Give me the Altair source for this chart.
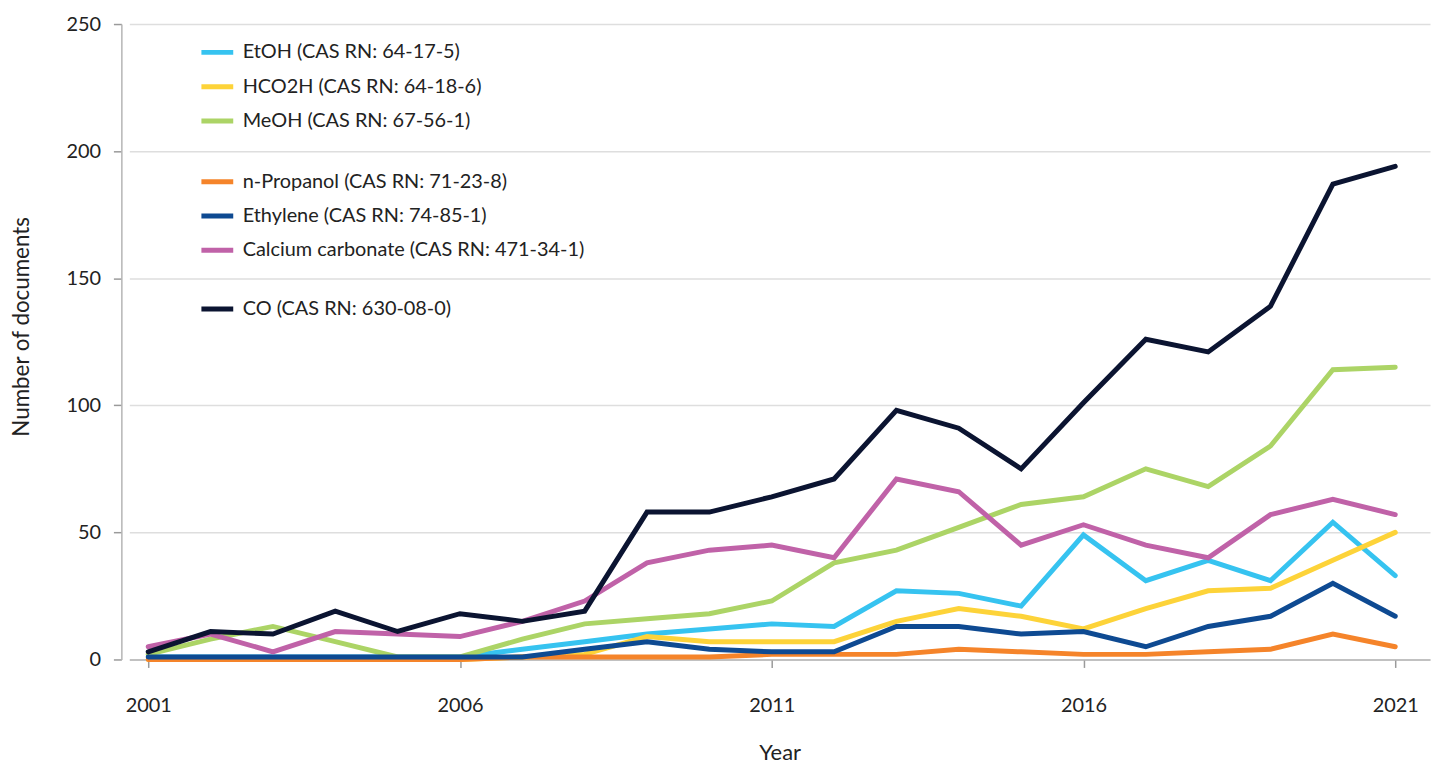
import altair as alt
import pandas as pd

years = list(range(2001, 2022))

names = [
    "EtOH (CAS RN: 64-17-5)",
    "HCO2H (CAS RN: 64-18-6)",
    "MeOH (CAS RN: 67-56-1)",
    "n-Propanol (CAS RN: 71-23-8)",
    "Ethylene (CAS RN: 74-85-1)",
    "Calcium carbonate (CAS RN: 471-34-1)",
    "CO (CAS RN: 630-08-0)",
]
colors = ["#36c3f0", "#fdd339", "#acd466", "#f5842a", "#0e4a92", "#c062a8", "#0b1431"]

etoh = [1, 1, 1, 1, 1, 1, 4, 7, 10, 12, 14, 13, 27, 26, 21, 49, 31, 39, 31, 54, 33]
hco2h = [0, 0, 0, 0, 0, 0, 1, 2, 9, 7, 7, 7, 15, 20, 17, 12, 20, 27, 28, 39, 50]
meoh = [2, 8, 13, 7, 1, 1, 8, 14, 16, 18, 23, 38, 43, 52, 61, 64, 75, 68, 84, 114, 115]
npropanol = [0, 0, 0, 0, 0, 0, 1, 1, 1, 1, 2, 2, 2, 4, 3, 2, 2, 3, 4, 10, 5]
ethylene = [1, 1, 1, 1, 1, 1, 1, 4, 7, 4, 3, 3, 13, 13, 10, 11, 5, 13, 17, 30, 17]
caco3 = [5, 10, 3, 11, 10, 9, 15, 23, 38, 43, 45, 40, 71, 66, 45, 53, 45, 40, 57, 63, 57]
co = [3, 11, 10, 19, 11, 18, 15, 19, 58, 58, 64, 71, 98, 91, 75, 101, 126, 121, 139, 187, 194]

series = [etoh, hco2h, meoh, npropanol, ethylene, caco3, co]
x_ticks = [2001, 2006, 2011, 2016, 2021]
y_ticks = [0, 50, 100, 150, 200, 250]

rows = []
for name, vals in zip(names, series):
    for yr, v in zip(years, vals):
        rows.append({"Year": yr, "Documents": v, "Series": name})
df = pd.DataFrame(rows)

groups = [[0, 1, 2], [3, 4, 5], [6]]
legend_tops = [10, 140, 268]

FONT = "Lato"
TXT = "#222222"

x_enc = alt.X(
    "Year:Q",
    scale=alt.Scale(domain=[2000.697, 2021.558], nice=False, zero=False),
    axis=alt.Axis(
        values=x_ticks, format="d", grid=False,
        domainColor="#b5b5b5", domainWidth=1.5,
        tickColor="#9a9a9a", tickWidth=1.5, tickSize=8,
        labelPadding=28, labelFontSize=20, labelColor=TXT, labelFont=FONT,
        titleFontSize=22, titleFontWeight="normal", titleColor=TXT, titleFont=FONT,
        titlePadding=28,
    ),
    title="Year",
)
y_enc = alt.Y(
    "Documents:Q",
    scale=alt.Scale(domain=[0, 250], nice=False),
    axis=alt.Axis(
        values=y_ticks, grid=True, gridColor="#dedede", gridWidth=1.5,
        offset=8, domainColor="#b5b5b5", domainWidth=1.5,
        tickColor="#9a9a9a", tickWidth=1.5, tickSize=8,
        labelPadding=13, labelFontSize=20, labelColor=TXT, labelFont=FONT,
        titleFontSize=22.5, titleFontWeight="normal", titleColor=TXT, titleFont=FONT,
        titlePadding=33, titleY=304,
    ),
    title="Number of documents",
)

layers = []
for idx, top in zip(groups, legend_tops):
    dom = [names[i] for i in idx]
    rng = [colors[i] for i in idx]
    layers.append(
        alt.Chart(df)
        .transform_filter(alt.FieldOneOfPredicate(field="Series", oneOf=dom))
        .mark_line(strokeWidth=5, strokeCap="round", strokeJoin="miter")
        .encode(
            x=x_enc,
            y=y_enc,
            color=alt.Color(
                "Series:N",
                sort=dom,
                scale=alt.Scale(domain=dom, range=rng),
                legend=alt.Legend(
                    orient="none", legendX=70, legendY=top, title=None,
                    symbolType="stroke", symbolStrokeWidth=5, symbolSize=1024,
                    labelOffset=7, labelFontSize=20, labelFont=FONT, labelColor=TXT,
                    labelLimit=500, rowPadding=5.5, padding=0,
                ),
            ),
            detail="Series:N",
        )
    )

chart = (
    alt.layer(*layers)
    .resolve_scale(color="independent")
    .properties(
        width=1308, height=639,
        autosize=alt.AutoSizeParams(type="none"),
        padding={"left": 122, "top": 14, "right": 2, "bottom": 106},
    )
    .configure(font=FONT)
    .configure_view(stroke=None)
)

chart.save("out.html", embed_options={"renderer": "svg", "actions": False})
